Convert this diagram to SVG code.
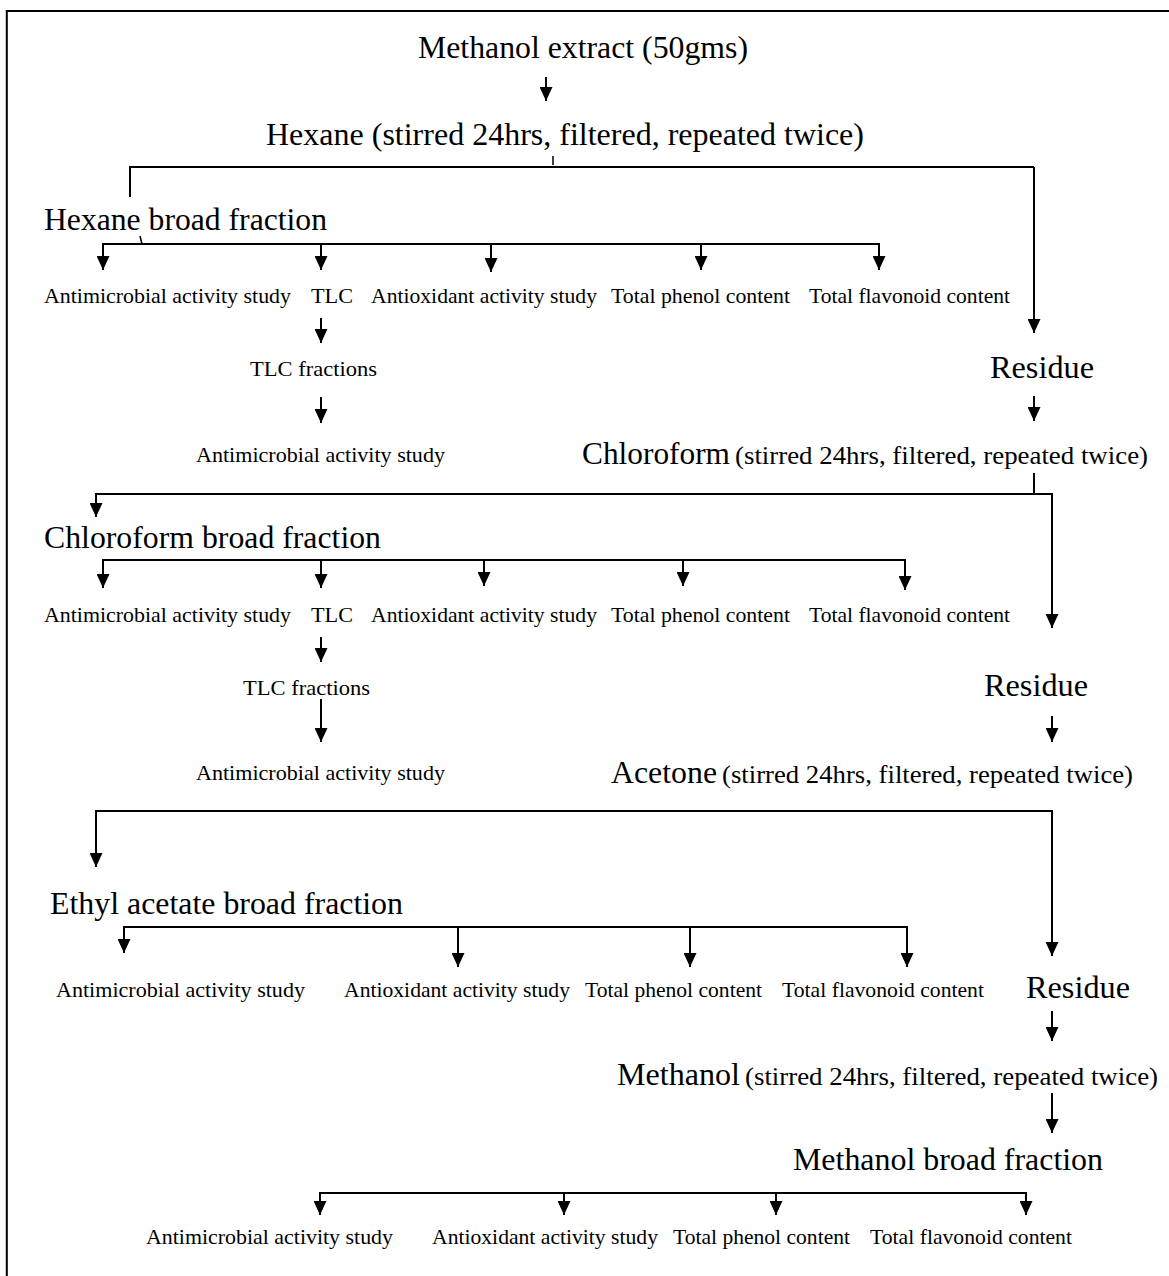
<svg xmlns="http://www.w3.org/2000/svg" width="1169" height="1276" viewBox="0 0 1169 1276">
<style>
  text { font-family: "Liberation Serif", "Times New Roman", serif; fill: #000; }
  .big { font-size: 31px; }
  .mid { font-size: 25px; }
  .sm { font-size: 21px; }
  .ln { fill: none; stroke: #000; stroke-width: 2; }
  .ar { fill: none; stroke: #000; stroke-width: 2; marker-end: url(#ah); }
  .tk { fill: none; stroke: #000; stroke-width: 1.5; }
</style>
<defs>
  <marker id="ah" viewBox="0 0 14 13" refX="14" refY="6.5" markerWidth="14" markerHeight="13" markerUnits="userSpaceOnUse" orient="auto">
    <path d="M0,0 L14,6.5 L0,13 z" fill="#000"/>
  </marker>
</defs>
<rect width="1169" height="1276" fill="#fff"/>
<path d="M6.8,1276 V11 H1169" fill="none" stroke="#000" stroke-width="2"/>

<g id="connectors">
  <line class="ar" x1="546" y1="77" x2="546" y2="101"/>
  <line class="tk" x1="553" y1="156" x2="553" y2="165"/>
  <path class="ln" d="M130,197 V167 H1034"/>
  <line class="ar" x1="1034" y1="167" x2="1034" y2="333"/>

  <line class="tk" x1="140" y1="236" x2="142" y2="244"/>
  <line class="ln" x1="103" y1="244" x2="879" y2="244"/>
  <line class="ar" x1="103" y1="243" x2="103" y2="270"/>
  <line class="ar" x1="321" y1="244" x2="321" y2="270"/>
  <line class="ar" x1="491" y1="244" x2="491" y2="272"/>
  <line class="ar" x1="701" y1="244" x2="701" y2="270"/>
  <line class="ar" x1="879" y1="243" x2="879" y2="270"/>

  <line class="ar" x1="321" y1="318" x2="321" y2="343"/>
  <line class="ar" x1="321" y1="397" x2="321" y2="423"/>

  <line class="ar" x1="1034" y1="396" x2="1034" y2="421"/>

  <line class="ln" x1="1034" y1="473" x2="1034" y2="494"/>
  <line class="ln" x1="96" y1="494" x2="1052" y2="494"/>
  <line class="ar" x1="96" y1="493" x2="96" y2="517"/>
  <line class="ar" x1="1052" y1="493" x2="1052" y2="628"/>

  <line class="ln" x1="103" y1="560" x2="905" y2="560"/>
  <line class="ar" x1="103" y1="559" x2="103" y2="588"/>
  <line class="ar" x1="321" y1="560" x2="321" y2="588"/>
  <line class="ar" x1="484" y1="560" x2="484" y2="586"/>
  <line class="ar" x1="683" y1="560" x2="683" y2="586"/>
  <line class="ar" x1="905" y1="559" x2="905" y2="590"/>

  <line class="ar" x1="321" y1="637" x2="321" y2="662"/>
  <line class="ar" x1="321" y1="699" x2="321" y2="742"/>

  <line class="ar" x1="1052" y1="716" x2="1052" y2="742"/>

  <line class="ln" x1="96" y1="811" x2="1052" y2="811"/>
  <line class="ar" x1="96" y1="810" x2="96" y2="867"/>
  <line class="ar" x1="1052" y1="810" x2="1052" y2="956"/>

  <line class="ln" x1="124" y1="927" x2="907" y2="927"/>
  <line class="ar" x1="124" y1="926" x2="124" y2="953"/>
  <line class="ar" x1="458" y1="927" x2="458" y2="967"/>
  <line class="ar" x1="690" y1="927" x2="690" y2="967"/>
  <line class="ar" x1="907" y1="926" x2="907" y2="967"/>

  <line class="ar" x1="1052" y1="1011" x2="1052" y2="1041"/>
  <line class="ar" x1="1052" y1="1093" x2="1052" y2="1133"/>

  <line class="ln" x1="320" y1="1193" x2="1026" y2="1193"/>
  <line class="ar" x1="320" y1="1192" x2="320" y2="1215"/>
  <line class="ar" x1="564" y1="1193" x2="564" y2="1215"/>
  <line class="ar" x1="776" y1="1193" x2="776" y2="1215"/>
  <line class="ar" x1="1026" y1="1192" x2="1026" y2="1215"/>
</g>

<g id="n-methanol-extract"><text class="big" x="418" y="58" textLength="330" lengthAdjust="spacingAndGlyphs">Methanol extract (50gms)</text></g>
<g id="n-hexane"><text class="big" x="266" y="145" textLength="598" lengthAdjust="spacingAndGlyphs">Hexane (stirred 24hrs, filtered, repeated twice)</text></g>
<g id="n-hexane-broad"><text class="big" x="44" y="230" textLength="283" lengthAdjust="spacingAndGlyphs">Hexane broad fraction</text></g>

<g id="n-hx-antimicrobial"><text class="sm" x="44" y="303" textLength="247" lengthAdjust="spacingAndGlyphs">Antimicrobial activity study</text></g>
<g id="n-hx-tlc"><text class="sm" x="311" y="303" textLength="42" lengthAdjust="spacingAndGlyphs">TLC</text></g>
<g id="n-hx-antioxidant"><text class="sm" x="371" y="303" textLength="226" lengthAdjust="spacingAndGlyphs">Antioxidant activity study</text></g>
<g id="n-hx-phenol"><text class="sm" x="611" y="303" textLength="179" lengthAdjust="spacingAndGlyphs">Total phenol content</text></g>
<g id="n-hx-flavonoid"><text class="sm" x="809" y="303" textLength="201" lengthAdjust="spacingAndGlyphs">Total flavonoid content</text></g>
<g id="n-hx-tlc-fractions"><text class="sm" x="250" y="376" textLength="127" lengthAdjust="spacingAndGlyphs">TLC fractions</text></g>
<g id="n-hx-tlc-antimicrobial"><text class="sm" x="196" y="462" textLength="249" lengthAdjust="spacingAndGlyphs">Antimicrobial activity study</text></g>

<g id="n-residue-1"><text class="big" x="990" y="378" textLength="104" lengthAdjust="spacingAndGlyphs">Residue</text></g>
<g id="n-chloroform"><text x="582" y="464"><tspan class="big" x="582" textLength="148" lengthAdjust="spacingAndGlyphs">Chloroform</tspan><tspan class="mid" x="735" textLength="413" lengthAdjust="spacingAndGlyphs">(stirred 24hrs, filtered, repeated twice)</tspan></text></g>
<g id="n-chloroform-broad"><text class="big" x="44" y="548" textLength="337" lengthAdjust="spacingAndGlyphs">Chloroform broad fraction</text></g>

<g id="n-cl-antimicrobial"><text class="sm" x="44" y="622" textLength="247" lengthAdjust="spacingAndGlyphs">Antimicrobial activity study</text></g>
<g id="n-cl-tlc"><text class="sm" x="311" y="622" textLength="42" lengthAdjust="spacingAndGlyphs">TLC</text></g>
<g id="n-cl-antioxidant"><text class="sm" x="371" y="622" textLength="226" lengthAdjust="spacingAndGlyphs">Antioxidant activity study</text></g>
<g id="n-cl-phenol"><text class="sm" x="611" y="622" textLength="179" lengthAdjust="spacingAndGlyphs">Total phenol content</text></g>
<g id="n-cl-flavonoid"><text class="sm" x="809" y="622" textLength="201" lengthAdjust="spacingAndGlyphs">Total flavonoid content</text></g>
<g id="n-cl-tlc-fractions"><text class="sm" x="243" y="695" textLength="127" lengthAdjust="spacingAndGlyphs">TLC fractions</text></g>
<g id="n-cl-tlc-antimicrobial"><text class="sm" x="196" y="780" textLength="249" lengthAdjust="spacingAndGlyphs">Antimicrobial activity study</text></g>

<g id="n-residue-2"><text class="big" x="984" y="696" textLength="104" lengthAdjust="spacingAndGlyphs">Residue</text></g>
<g id="n-acetone"><text x="611" y="783"><tspan class="big" x="611" textLength="106" lengthAdjust="spacingAndGlyphs">Acetone</tspan><tspan class="mid" x="722" textLength="411" lengthAdjust="spacingAndGlyphs">(stirred 24hrs, filtered, repeated twice)</tspan></text></g>

<g id="n-ethyl-broad"><text class="big" x="50" y="914" textLength="353" lengthAdjust="spacingAndGlyphs">Ethyl acetate broad fraction</text></g>
<g id="n-ea-antimicrobial"><text class="sm" x="56" y="997" textLength="249" lengthAdjust="spacingAndGlyphs">Antimicrobial activity study</text></g>
<g id="n-ea-antioxidant"><text class="sm" x="344" y="997" textLength="226" lengthAdjust="spacingAndGlyphs">Antioxidant activity study</text></g>
<g id="n-ea-phenol"><text class="sm" x="585" y="997" textLength="177" lengthAdjust="spacingAndGlyphs">Total phenol content</text></g>
<g id="n-ea-flavonoid"><text class="sm" x="782" y="997" textLength="202" lengthAdjust="spacingAndGlyphs">Total flavonoid content</text></g>

<g id="n-residue-3"><text class="big" x="1026" y="998" textLength="104" lengthAdjust="spacingAndGlyphs">Residue</text></g>
<g id="n-methanol"><text x="617" y="1085"><tspan class="big" x="617" textLength="123" lengthAdjust="spacingAndGlyphs">Methanol</tspan><tspan class="mid" x="745" textLength="413" lengthAdjust="spacingAndGlyphs">(stirred 24hrs, filtered, repeated twice)</tspan></text></g>
<g id="n-methanol-broad"><text class="big" x="793" y="1170" textLength="310" lengthAdjust="spacingAndGlyphs">Methanol broad fraction</text></g>

<g id="n-me-antimicrobial"><text class="sm" x="146" y="1244" textLength="247" lengthAdjust="spacingAndGlyphs">Antimicrobial activity study</text></g>
<g id="n-me-antioxidant"><text class="sm" x="432" y="1244" textLength="226" lengthAdjust="spacingAndGlyphs">Antioxidant activity study</text></g>
<g id="n-me-phenol"><text class="sm" x="673" y="1244" textLength="177" lengthAdjust="spacingAndGlyphs">Total phenol content</text></g>
<g id="n-me-flavonoid"><text class="sm" x="870" y="1244" textLength="202" lengthAdjust="spacingAndGlyphs">Total flavonoid content</text></g>
</svg>
